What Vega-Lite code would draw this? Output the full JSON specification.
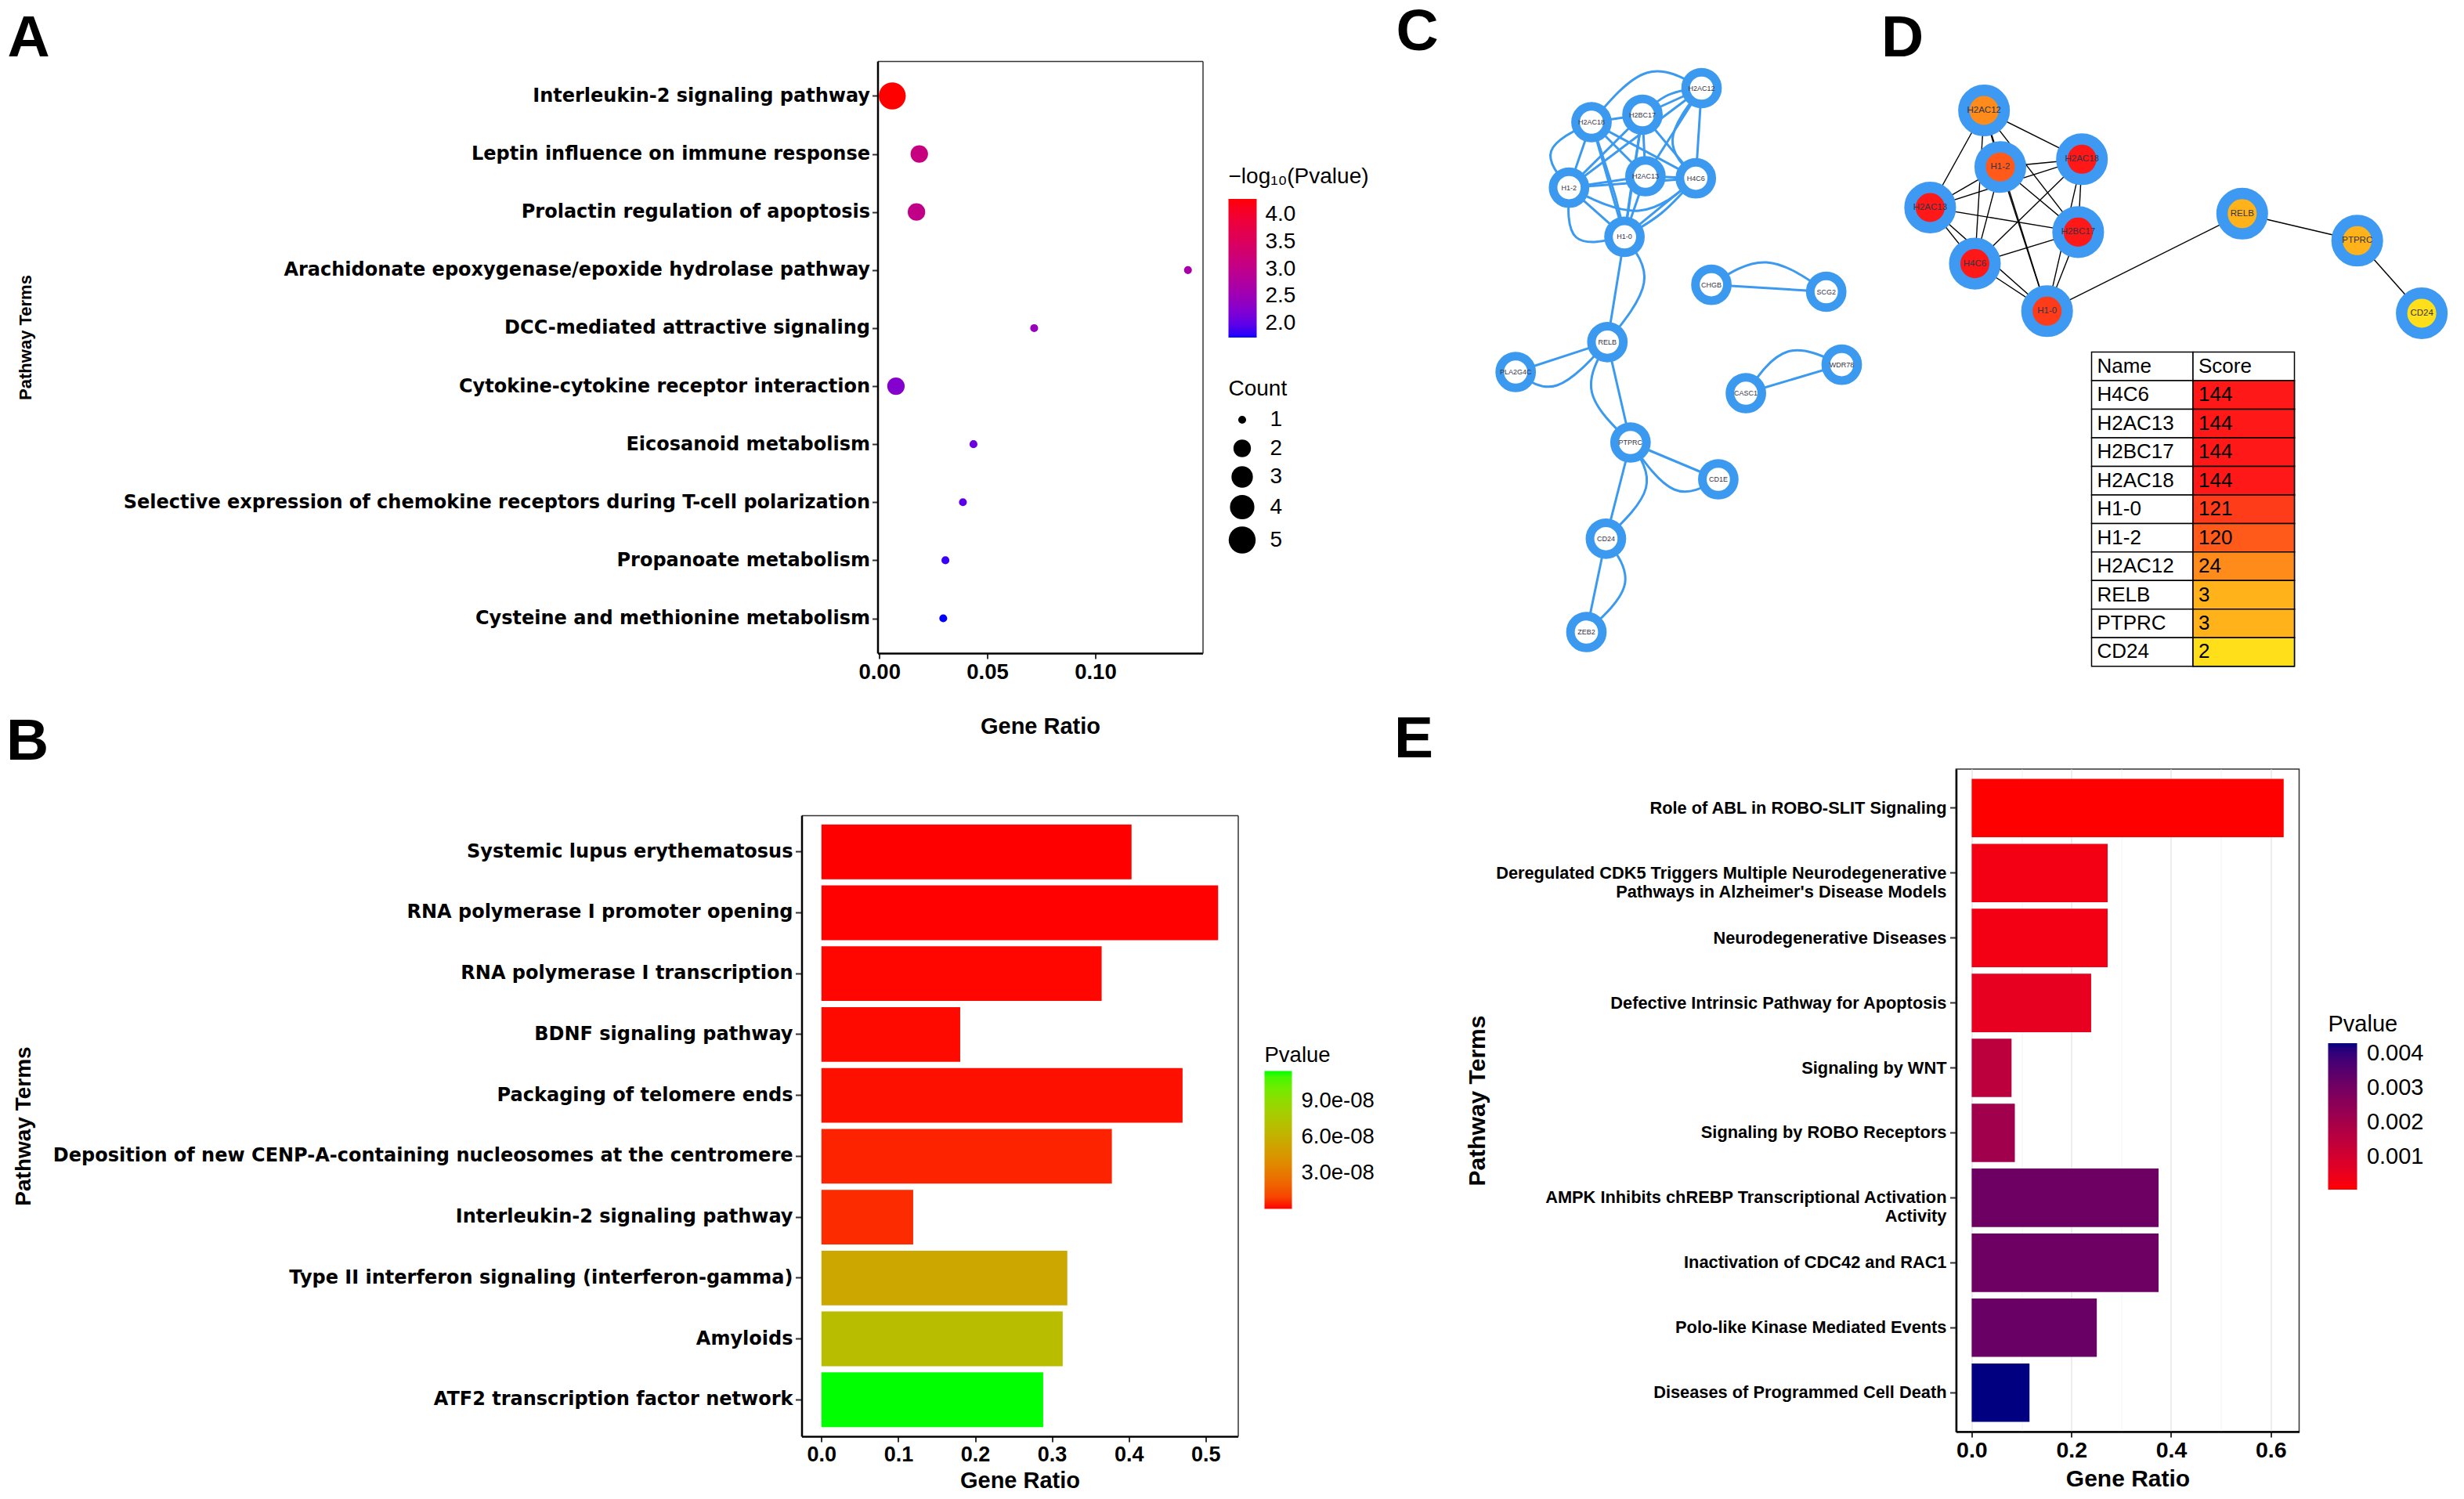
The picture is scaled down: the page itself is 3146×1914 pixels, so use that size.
{
 "$schema": "https://vega.github.io/schema/vega-lite/v6.json",
 "padding": {"left": 7.5, "top": 4, "right": 0, "bottom": 0},
 "background": "white",
 "columns": 3,
 "spacing": {"row": 0, "column": 0},
 "bounds": "flush",
 "resolve": {"scale": {"color": "independent", "size": "independent", "fill": "independent"}},
 "config": {
  "font": "Liberation Sans",
  "view": {"stroke": "#333333", "strokeWidth": 1.5},
  "axis": {"labelLimit": 2000, "labelFlush": false, "labelOverlap": false, "gridColor": "#EBEBEB", "gridWidth": 1.8, "tickColor": "#333333", "tickWidth": 2, "domainColor": "#000000", "domainWidth": 2.5, "labelColor": "#000000", "titleColor": "#000000", "labelFont": "Liberation Sans", "titleFont": "Liberation Sans", "titleFontWeight": "bold", "labelFontWeight": "bold"},
  "legend": {"labelFont": "Liberation Sans", "titleFont": "Liberation Sans", "titleFontWeight": "normal", "labelColor": "#000000", "titleColor": "#000000", "titleLimit": 600, "labelLimit": 400, "padding": 0, "gradientStrokeWidth": 0, "labelOverlap": false},
  "title": {"font": "Liberation Sans", "fontWeight": "bold", "fontSize": 75, "color": "#000000", "anchor": "start", "frame": "group", "baseline": "alphabetic"}
 },
 "datasets": {
  "dotA": [
   {"Term": "Interleukin-2 signaling pathway", "GeneRatio": 0.006, "Count": 5, "logP": 4.29},
   {"Term": "Leptin influence on immune response", "GeneRatio": 0.0185, "Count": 2, "logP": 3.12},
   {"Term": "Prolactin regulation of apoptosis", "GeneRatio": 0.0172, "Count": 2, "logP": 3.02},
   {"Term": "Arachidonate epoxygenase/epoxide hydrolase pathway", "GeneRatio": 0.1429, "Count": 1, "logP": 2.65},
   {"Term": "DCC-mediated attractive signaling", "GeneRatio": 0.0717, "Count": 1, "logP": 2.45},
   {"Term": "Cytokine-cytokine receptor interaction", "GeneRatio": 0.0077, "Count": 2, "logP": 2.25},
   {"Term": "Eicosanoid metabolism", "GeneRatio": 0.0436, "Count": 1, "logP": 2.07},
   {"Term": "Selective expression of chemokine receptors during T-cell polarization", "GeneRatio": 0.0387, "Count": 1, "logP": 1.97},
   {"Term": "Propanoate metabolism", "GeneRatio": 0.0306, "Count": 1, "logP": 1.82},
   {"Term": "Cysteine and methionine metabolism", "GeneRatio": 0.0296, "Count": 1, "logP": 1.74}
  ],
  "barB": [
   {"Term": "Systemic lupus erythematosus", "GeneRatio": 0.4036, "Pvalue": 7e-10},
   {"Term": "RNA polymerase I promoter opening", "GeneRatio": 0.5163, "Pvalue": 8e-10},
   {"Term": "RNA polymerase I transcription", "GeneRatio": 0.3647, "Pvalue": 1.0e-9},
   {"Term": "BDNF signaling pathway", "GeneRatio": 0.1806, "Pvalue": 1.2e-9},
   {"Term": "Packaging of telomere ends", "GeneRatio": 0.470, "Pvalue": 1.6e-9},
   {"Term": "Deposition of new CENP-A-containing nucleosomes at the centromere", "GeneRatio": 0.378, "Pvalue": 3.5e-9},
   {"Term": "Interleukin-2 signaling pathway", "GeneRatio": 0.1194, "Pvalue": 4.8e-9},
   {"Term": "Type II interferon signaling (interferon-gamma)", "GeneRatio": 0.320, "Pvalue": 5.5e-8},
   {"Term": "Amyloids", "GeneRatio": 0.314, "Pvalue": 6.9e-8},
   {"Term": "ATF2 transcription factor network", "GeneRatio": 0.2886, "Pvalue": 1.148e-7}
  ],
  "barE": [
   {"Term": "Role of ABL in ROBO-SLIT Signaling", "GeneRatio": 0.626, "Pvalue": 0.00004},
   {"Term": "Deregulated CDK5 Triggers Multiple Neurodegenerative\nPathways in Alzheimer's Disease Models", "GeneRatio": 0.2728, "Pvalue": 0.0003},
   {"Term": "Neurodegenerative Diseases", "GeneRatio": 0.2728, "Pvalue": 0.0003},
   {"Term": "Defective Intrinsic Pathway for Apoptosis", "GeneRatio": 0.2397, "Pvalue": 0.00055},
   {"Term": "Signaling by WNT", "GeneRatio": 0.080, "Pvalue": 0.0015},
   {"Term": "Signaling by ROBO Receptors", "GeneRatio": 0.0866, "Pvalue": 0.0021},
   {"Term": "AMPK Inhibits chREBP Transcriptional Activation\nActivity", "GeneRatio": 0.375, "Pvalue": 0.0031},
   {"Term": "Inactivation of CDC42 and RAC1", "GeneRatio": 0.375, "Pvalue": 0.0031},
   {"Term": "Polo-like Kinase Mediated Events", "GeneRatio": 0.251, "Pvalue": 0.0032},
   {"Term": "Diseases of Programmed Cell Death", "GeneRatio": 0.116, "Pvalue": 0.0043}
  ],
  "cnodes": [
   {"id": "H2AC12", "x": 2172, "y": 111.5},
   {"id": "H2BC17", "x": 2096.6, "y": 145.5},
   {"id": "H2AC18", "x": 2031.5, "y": 155},
   {"id": "H1-2", "x": 2002.8, "y": 238.6},
   {"id": "H2AC13", "x": 2100.4, "y": 224},
   {"id": "H4C6", "x": 2164.7, "y": 226.6},
   {"id": "H1-0", "x": 2073.6, "y": 301.4},
   {"id": "CHGB", "x": 2184.6, "y": 362.6},
   {"id": "SCG2", "x": 2331.2, "y": 371.5},
   {"id": "RELB", "x": 2051.8, "y": 435.8},
   {"id": "PLA2G4C", "x": 1934.7, "y": 474},
   {"id": "WDR78", "x": 2351, "y": 464.6},
   {"id": "CASC1", "x": 2228.6, "y": 501},
   {"id": "PTPRC", "x": 2081.3, "y": 564},
   {"id": "CD1E", "x": 2193.4, "y": 611},
   {"id": "CD24", "x": 2049.9, "y": 686.8},
   {"id": "ZEB2", "x": 2025, "y": 806}
  ],
  "cedges": [
   {"s": "H2AC12", "t": "H2BC17"}, {"s": "H2AC12", "t": "H4C6"}, {"s": "H2AC12", "t": "H2AC13"}, {"s": "H2AC12", "t": "H1-2"},
   {"s": "H2BC17", "t": "H2AC18"}, {"s": "H2BC17", "t": "H1-2"}, {"s": "H2BC17", "t": "H2AC13"}, {"s": "H2BC17", "t": "H4C6"}, {"s": "H2BC17", "t": "H1-0"},
   {"s": "H2AC18", "t": "H1-2"}, {"s": "H2AC18", "t": "H2AC13"}, {"s": "H2AC18", "t": "H4C6"}, {"s": "H2AC18", "t": "H1-0"},
   {"s": "H1-2", "t": "H2AC13"}, {"s": "H1-2", "t": "H4C6"}, {"s": "H1-2", "t": "H1-0"},
   {"s": "H2AC13", "t": "H4C6"}, {"s": "H2AC13", "t": "H1-0"}, {"s": "H4C6", "t": "H1-0"},
   {"s": "H1-0", "t": "RELB"}, {"s": "RELB", "t": "PLA2G4C"}, {"s": "RELB", "t": "PTPRC"},
   {"s": "PTPRC", "t": "CD1E"}, {"s": "PTPRC", "t": "CD24"}, {"s": "CD24", "t": "ZEB2"},
   {"s": "CHGB", "t": "SCG2"}, {"s": "CASC1", "t": "WDR78"}
  ],
  "ccurves": [
   {"e": "c1", "o": 0, "x": 2073.6, "y": 301.4}, {"e": "c1", "o": 1, "x": 2098.5, "y": 360}, {"e": "c1", "o": 2, "x": 2051.8, "y": 435.8},
   {"e": "c2", "o": 0, "x": 2051.8, "y": 435.8}, {"e": "c2", "o": 1, "x": 1987.5, "y": 491}, {"e": "c2", "o": 2, "x": 1934.7, "y": 474},
   {"e": "c3", "o": 0, "x": 2051.8, "y": 435.8}, {"e": "c3", "o": 1, "x": 2032, "y": 500}, {"e": "c3", "o": 2, "x": 2081.3, "y": 564},
   {"e": "c4", "o": 0, "x": 2081.3, "y": 564}, {"e": "c4", "o": 1, "x": 2137, "y": 624}, {"e": "c4", "o": 2, "x": 2193.4, "y": 611},
   {"e": "c5", "o": 0, "x": 2081.3, "y": 564}, {"e": "c5", "o": 1, "x": 2101, "y": 622}, {"e": "c5", "o": 2, "x": 2049.9, "y": 686.8},
   {"e": "c6", "o": 0, "x": 2049.9, "y": 686.8}, {"e": "c6", "o": 1, "x": 2074, "y": 745}, {"e": "c6", "o": 2, "x": 2025, "y": 806},
   {"e": "c7", "o": 0, "x": 2184.6, "y": 362.6}, {"e": "c7", "o": 1, "x": 2255, "y": 334}, {"e": "c7", "o": 2, "x": 2331.2, "y": 371.5},
   {"e": "c8", "o": 0, "x": 2228.6, "y": 501}, {"e": "c8", "o": 1, "x": 2282, "y": 448}, {"e": "c8", "o": 2, "x": 2351, "y": 464.6},
   {"e": "c9", "o": 0, "x": 2031.5, "y": 155}, {"e": "c9", "o": 1, "x": 2102, "y": 92}, {"e": "c9", "o": 2, "x": 2172, "y": 111.5},
   {"e": "c10", "o": 0, "x": 2172, "y": 111.5}, {"e": "c10", "o": 1, "x": 2135, "y": 177}, {"e": "c10", "o": 2, "x": 2164.7, "y": 226.6},
   {"e": "c11", "o": 0, "x": 2002.8, "y": 238.6}, {"e": "c11", "o": 1, "x": 2012, "y": 302}, {"e": "c11", "o": 2, "x": 2073.6, "y": 301.4},
   {"e": "c12", "o": 0, "x": 2031.5, "y": 155}, {"e": "c12", "o": 1, "x": 1980, "y": 192}, {"e": "c12", "o": 2, "x": 2002.8, "y": 238.6},
   {"e": "c13", "o": 0, "x": 2002.8, "y": 238.6}, {"e": "c13", "o": 1, "x": 2092, "y": 268}, {"e": "c13", "o": 2, "x": 2164.7, "y": 226.6},
   {"e": "c14", "o": 0, "x": 2164.7, "y": 226.6}, {"e": "c14", "o": 1, "x": 2121, "y": 271}, {"e": "c14", "o": 2, "x": 2073.6, "y": 301.4},
   {"e": "c15", "o": 0, "x": 2031.5, "y": 155}, {"e": "c15", "o": 1, "x": 2062, "y": 250}, {"e": "c15", "o": 2, "x": 2073.6, "y": 301.4},
   {"e": "c16", "o": 0, "x": 2096.6, "y": 145.5}, {"e": "c16", "o": 1, "x": 2082, "y": 240}, {"e": "c16", "o": 2, "x": 2073.6, "y": 301.4},
   {"e": "c17", "o": 0, "x": 2172, "y": 111.5}, {"e": "c17", "o": 1, "x": 2130, "y": 120}, {"e": "c17", "o": 2, "x": 2096.6, "y": 145.5}
  ],
  "dnodes": [
   {"id": "H2AC12", "x": 2532.7, "y": 140, "Score": 24},
   {"id": "H1-2", "x": 2553.5, "y": 212.2, "Score": 120},
   {"id": "H2AC18", "x": 2657.7, "y": 202.3, "Score": 144},
   {"id": "H2AC13", "x": 2463.9, "y": 264, "Score": 144},
   {"id": "H2BC17", "x": 2652.9, "y": 295.4, "Score": 144},
   {"id": "H4C6", "x": 2521, "y": 335.6, "Score": 144},
   {"id": "H1-0", "x": 2613.2, "y": 396.3, "Score": 121},
   {"id": "RELB", "x": 2862.3, "y": 271.8, "Score": 3},
   {"id": "PTPRC", "x": 3009.2, "y": 306.3, "Score": 3},
   {"id": "CD24", "x": 3091.6, "y": 399, "Score": 2}
  ],
  "dedges": [
   {"s": "H2AC12", "t": "H1-2"}, {"s": "H2AC12", "t": "H2AC18"}, {"s": "H2AC12", "t": "H2AC13"}, {"s": "H2AC12", "t": "H2BC17"}, {"s": "H2AC12", "t": "H4C6"}, {"s": "H2AC12", "t": "H1-0"},
   {"s": "H1-2", "t": "H2AC18"}, {"s": "H1-2", "t": "H2AC13"}, {"s": "H1-2", "t": "H2BC17"}, {"s": "H1-2", "t": "H4C6"}, {"s": "H1-2", "t": "H1-0"},
   {"s": "H2AC18", "t": "H2AC13"}, {"s": "H2AC18", "t": "H2BC17"}, {"s": "H2AC18", "t": "H4C6"}, {"s": "H2AC18", "t": "H1-0"},
   {"s": "H2AC13", "t": "H2BC17"}, {"s": "H2AC13", "t": "H4C6"}, {"s": "H2AC13", "t": "H1-0"},
   {"s": "H2BC17", "t": "H4C6"}, {"s": "H2BC17", "t": "H1-0"}, {"s": "H4C6", "t": "H1-0"},
   {"s": "H1-0", "t": "RELB"}, {"s": "RELB", "t": "PTPRC"}, {"s": "PTPRC", "t": "CD24"}
  ],
  "dtable": [
   {"r": 0, "c": "Name", "label": "Name"}, {"r": 0, "c": "Score", "label": "Score"},
   {"r": 1, "c": "Name", "label": "H4C6"}, {"r": 1, "c": "Score", "label": "144", "Score": 144},
   {"r": 2, "c": "Name", "label": "H2AC13"}, {"r": 2, "c": "Score", "label": "144", "Score": 144},
   {"r": 3, "c": "Name", "label": "H2BC17"}, {"r": 3, "c": "Score", "label": "144", "Score": 144},
   {"r": 4, "c": "Name", "label": "H2AC18"}, {"r": 4, "c": "Score", "label": "144", "Score": 144},
   {"r": 5, "c": "Name", "label": "H1-0"}, {"r": 5, "c": "Score", "label": "121", "Score": 121},
   {"r": 6, "c": "Name", "label": "H1-2"}, {"r": 6, "c": "Score", "label": "120", "Score": 120},
   {"r": 7, "c": "Name", "label": "H2AC12"}, {"r": 7, "c": "Score", "label": "24", "Score": 24},
   {"r": 8, "c": "Name", "label": "RELB"}, {"r": 8, "c": "Score", "label": "3", "Score": 3},
   {"r": 9, "c": "Name", "label": "PTPRC"}, {"r": 9, "c": "Score", "label": "3", "Score": 3},
   {"r": 10, "c": "Name", "label": "CD24"}, {"r": 10, "c": "Score", "label": "2", "Score": 2}
  ]
 },
 "concat": [
  {
   "width": 512, "height": 756,
   "title": {"text": "A", "dx": -1014, "offset": -10},
   "view": {"stroke": null, "fill": "transparent"},
   "data": {"name": "dotA"},
   "resolve": {"axis": {"x": "independent", "y": "independent"}},
   "layer": [
    {
     "mark": {"type": "circle", "opacity": 0},
     "encoding": {
      "x": {"field": "GeneRatio", "type": "quantitative",
       "scale": {"domain": [-0.0008, 0.1497], "nice": false, "zero": false, "range": [97, 512]},
       "axis": {"orient": "top", "labels": false, "ticks": false, "grid": false, "title": null, "domainColor": "#333333", "domainWidth": 1.5}},
      "y": {"field": "Term", "type": "nominal", "sort": null,
       "scale": {"type": "point", "padding": 0.6},
       "axis": {"orient": "right", "labels": false, "ticks": false, "grid": false, "title": null, "domainColor": "#333333", "domainWidth": 1.5}}
     }
    },
    {
     "mark": {"type": "circle", "opacity": 1},
     "encoding": {
      "x": {"field": "GeneRatio", "type": "quantitative",
       "scale": {"domain": [-0.0008, 0.1497], "nice": false, "zero": false, "range": [97, 512]},
       "axis": {"orient": "bottom", "values": [0, 0.025, 0.05, 0.075, 0.1, 0.125],
        "labelExpr": "abs(datum.value*20 - round(datum.value*20)) < 0.001 ? format(datum.value, '.2f') : ''",
        "gridColor": {"condition": {"test": "abs(datum.value*20 - round(datum.value*20)) > 0.001", "value": "#F4F4F4"}, "value": "#EBEBEB"},
        "gridWidth": {"condition": {"test": "abs(datum.value*20 - round(datum.value*20)) > 0.001", "value": 1}, "value": 1.8},
        "tickOpacity": {"condition": {"test": "abs(datum.value*20 - round(datum.value*20)) > 0.001", "value": 0}, "value": 1},
        "labelFontSize": 27.5, "tickSize": 7, "labelPadding": 3.5,
        "title": "Gene Ratio", "titleFontSize": 29, "titleY": 102, "titleBaseline": "alphabetic"}},
      "y": {"field": "Term", "type": "nominal", "sort": null,
       "scale": {"type": "point", "padding": 0.6},
       "axis": {"orient": "left", "offset": -97, "labelFont": "DejaVu Sans", "labelFontSize": 24, "tickSize": 7, "labelPadding": 3,
        "title": "Pathway Terms", "titleFontSize": 22, "titleX": -1076, "titleY": 352.5, "titleBaseline": "bottom"}},
      "size": {"field": "Count", "type": "quantitative",
       "scale": {"domain": [1, 2, 3, 4, 5], "range": [102, 497, 747, 973, 1188]},
       "legend": {"title": "Count", "values": [1, 2, 3, 4, 5], "format": "d", "orient": "none", "legendX": 545, "legendY": 405,
        "titleFontSize": 28, "labelFontSize": 28, "symbolFillColor": "#000000", "symbolStrokeWidth": 0, "symbolOpacity": 1,
        "rowPadding": 8.5, "titlePadding": 11, "labelOffset": 18}},
      "color": {"field": "logP", "type": "quantitative",
       "scale": {"domain": [1.74, 4.29], "range": ["#0000FF", "#FF0000"], "interpolate": "lab"},
       "legend": {"title": "−log₁₀(Pvalue)", "orient": "none", "legendX": 545, "legendY": 134,
        "gradientLength": 177, "gradientThickness": 36, "values": [2, 2.5, 3, 3.5, 4], "format": ".1f",
        "titleFontSize": 28, "labelFontSize": 28, "titlePadding": 14, "labelOffset": 11}}
     }
    }
   ]
  },
  {
   "width": 917, "height": 904,
   "title": {"text": "C", "dx": 202, "offset": -10},
   "view": {"stroke": null, "fill": "transparent"},
   "layer": [
    {
     "data": {"name": "cedges"},
     "transform": [
      {"lookup": "s", "from": {"data": {"name": "cnodes"}, "key": "id", "fields": ["x", "y"]}, "as": ["sx", "sy"]},
      {"lookup": "t", "from": {"data": {"name": "cnodes"}, "key": "id", "fields": ["x", "y"]}, "as": ["tx", "ty"]}
     ],
     "mark": {"type": "rule", "stroke": "#3B9AF0", "strokeWidth": 3},
     "encoding": {
      "x": {"field": "sx", "type": "quantitative", "scale": {"domain": [1580, 2497], "nice": false, "zero": false}, "axis": null},
      "y": {"field": "sy", "type": "quantitative", "scale": {"domain": [77, 981], "nice": false, "zero": false, "reverse": true}, "axis": null},
      "x2": {"field": "tx"},
      "y2": {"field": "ty"}
     }
    },
    {
     "data": {"name": "ccurves"},
     "mark": {"type": "line", "stroke": "#3B9AF0", "strokeWidth": 3, "interpolate": "natural"},
     "encoding": {
      "x": {"field": "x", "type": "quantitative", "scale": {"domain": [1580, 2497], "nice": false, "zero": false}, "axis": null},
      "y": {"field": "y", "type": "quantitative", "scale": {"domain": [77, 981], "nice": false, "zero": false, "reverse": true}, "axis": null},
      "detail": {"field": "e"},
      "order": {"field": "o"}
     }
    },
    {
     "data": {"name": "cnodes"},
     "mark": {"type": "point", "shape": "circle", "filled": true, "fill": "#FFFFFF", "stroke": "#3B9AF0", "strokeWidth": 11, "size": 1660, "opacity": 1},
     "encoding": {
      "x": {"field": "x", "type": "quantitative", "scale": {"domain": [1580, 2497], "nice": false, "zero": false}, "axis": null},
      "y": {"field": "y", "type": "quantitative", "scale": {"domain": [77, 981], "nice": false, "zero": false, "reverse": true}, "axis": null}
     }
    },
    {
     "data": {"name": "cnodes"},
     "mark": {"type": "text", "fontSize": 9, "font": "Liberation Sans", "fill": "#333344"},
     "encoding": {
      "x": {"field": "x", "type": "quantitative", "scale": {"domain": [1580, 2497], "nice": false, "zero": false}, "axis": null},
      "y": {"field": "y", "type": "quantitative", "scale": {"domain": [77, 981], "nice": false, "zero": false, "reverse": true}, "axis": null},
      "text": {"field": "id"}
     }
    }
   ]
  },
  {
   "width": 638, "height": 773,
   "title": {"text": "D", "dx": -95.5, "offset": -10},
   "view": {"stroke": null, "fill": "transparent"},
   "resolve": {"scale": {"x": "independent", "y": "independent"}},
   "layer": [
    {
     "data": {"name": "dedges"},
     "transform": [
      {"lookup": "s", "from": {"data": {"name": "dnodes"}, "key": "id", "fields": ["x", "y"]}, "as": ["sx", "sy"]},
      {"lookup": "t", "from": {"data": {"name": "dnodes"}, "key": "id", "fields": ["x", "y"]}, "as": ["tx", "ty"]}
     ],
     "mark": {"type": "rule", "stroke": "#000000", "strokeWidth": 1.4},
     "encoding": {
      "x": {"field": "sx", "type": "quantitative", "scale": {"domain": [2497, 3135], "nice": false, "zero": false}, "axis": null},
      "y": {"field": "sy", "type": "quantitative", "scale": {"domain": [77, 850], "nice": false, "zero": false, "reverse": true}, "axis": null},
      "x2": {"field": "tx"},
      "y2": {"field": "ty"}
     }
    },
    {
     "data": {"name": "dnodes"},
     "mark": {"type": "point", "shape": "circle", "filled": true, "stroke": "#3D99F2", "strokeWidth": 14.5, "size": 2660, "opacity": 1},
     "encoding": {
      "x": {"field": "x", "type": "quantitative", "scale": {"domain": [2497, 3135], "nice": false, "zero": false}, "axis": null},
      "y": {"field": "y", "type": "quantitative", "scale": {"domain": [77, 850], "nice": false, "zero": false, "reverse": true}, "axis": null},
      "fill": {"field": "Score", "type": "quantitative", "scale": {"domain": [2, 3, 24, 120, 121, 144], "range": ["#FFDE1A", "#FFB21A", "#FF8C1A", "#FF5A1A", "#FF3C1A", "#FF1818"]}, "legend": null}
     }
    },
    {
     "data": {"name": "dnodes"},
     "mark": {"type": "text", "fontSize": 11.5, "font": "Liberation Sans", "fill": "#333344"},
     "encoding": {
      "x": {"field": "x", "type": "quantitative", "scale": {"domain": [2497, 3135], "nice": false, "zero": false}, "axis": null},
      "y": {"field": "y", "type": "quantitative", "scale": {"domain": [77, 850], "nice": false, "zero": false, "reverse": true}, "axis": null},
      "text": {"field": "id"}
     }
    },
    {
     "data": {"name": "dtable"},
     "mark": {"type": "rect", "fill": "#FFFFFF", "stroke": "#000000", "strokeWidth": 1.5},
     "encoding": {
      "x": {"field": "c", "type": "nominal", "scale": {"type": "band", "domain": ["Name", "Score"], "range": [173, 432], "paddingInner": 0, "paddingOuter": 0}, "axis": null},
      "y": {"field": "r", "type": "ordinal", "scale": {"type": "band", "domain": [0, 1, 2, 3, 4, 5, 6, 7, 8, 9, 10], "range": [371.6, 772.7], "paddingInner": 0, "paddingOuter": 0}, "axis": null}
     }
    },
    {
     "data": {"name": "dtable"},
     "transform": [{"filter": "isValid(datum.Score)"}],
     "mark": {"type": "rect", "stroke": "#000000", "strokeWidth": 1.5},
     "encoding": {
      "x": {"field": "c", "type": "nominal", "scale": {"type": "band", "domain": ["Name", "Score"], "range": [173, 432], "paddingInner": 0, "paddingOuter": 0}, "axis": null},
      "y": {"field": "r", "type": "ordinal", "scale": {"type": "band", "domain": [0, 1, 2, 3, 4, 5, 6, 7, 8, 9, 10], "range": [371.6, 772.7], "paddingInner": 0, "paddingOuter": 0}, "axis": null},
      "fill": {"field": "Score", "type": "quantitative", "scale": {"domain": [2, 3, 24, 120, 121, 144], "range": ["#FFDE1A", "#FFB21A", "#FF8C1A", "#FF5A1A", "#FF3C1A", "#FF1818"]}, "legend": null}
     }
    },
    {
     "data": {"name": "dtable"},
     "mark": {"type": "text", "align": "left", "baseline": "middle", "dx": 7, "fontSize": 26, "font": "Liberation Sans", "fill": "#000000"},
     "encoding": {
      "x": {"field": "c", "type": "nominal", "bandPosition": 0, "scale": {"type": "band", "domain": ["Name", "Score"], "range": [173, 432], "paddingInner": 0, "paddingOuter": 0}, "axis": null},
      "y": {"field": "r", "type": "ordinal", "bandPosition": 0.5, "scale": {"type": "band", "domain": [0, 1, 2, 3, 4, 5, 6, 7, 8, 9, 10], "range": [371.6, 772.7], "paddingInner": 0, "paddingOuter": 0}, "axis": null},
      "text": {"field": "label"}
     }
    }
   ]
  },
  {
   "width": 557, "height": 852,
   "title": {"text": "B", "dx": -1015.5, "offset": -4},
   "view": {"stroke": null, "fill": "transparent"},
   "data": {"name": "barB"},
   "resolve": {"axis": {"x": "independent", "y": "independent"}},
   "layer": [
    {
     "mark": {"type": "bar", "opacity": 0},
     "encoding": {
      "x": {"field": "GeneRatio", "type": "quantitative",
       "scale": {"domain": [-0.0258, 0.542], "nice": false, "zero": false},
       "axis": {"orient": "top", "offset": -59, "labels": false, "ticks": false, "grid": false, "title": null, "domainColor": "#333333", "domainWidth": 1.5}},
      "y": {"field": "Term", "type": "nominal", "sort": null,
       "scale": {"range": [59, 852], "paddingInner": 0.1, "paddingOuter": 0.15},
       "axis": {"orient": "right", "labels": false, "ticks": false, "grid": false, "title": null, "domainColor": "#333333", "domainWidth": 1.5}}
     }
    },
    {
     "mark": {"type": "bar"},
     "encoding": {
      "x": {"field": "GeneRatio", "type": "quantitative",
       "scale": {"domain": [-0.0258, 0.542], "nice": false, "zero": false},
       "axis": {"orient": "bottom", "values": [0, 0.05, 0.1, 0.15, 0.2, 0.25, 0.3, 0.35, 0.4, 0.45, 0.5],
        "labelExpr": "abs(datum.value*10 - round(datum.value*10)) < 0.001 ? format(datum.value, '.1f') : ''",
        "gridColor": {"condition": {"test": "abs(datum.value*10 - round(datum.value*10)) > 0.001", "value": "#F4F4F4"}, "value": "#EBEBEB"},
        "gridWidth": {"condition": {"test": "abs(datum.value*10 - round(datum.value*10)) > 0.001", "value": 1}, "value": 1.8},
        "tickOpacity": {"condition": {"test": "abs(datum.value*10 - round(datum.value*10)) > 0.001", "value": 0}, "value": 1},
        "labelFontSize": 27, "tickSize": 7, "labelPadding": 3,
        "title": "Gene Ratio", "titleFontSize": 29, "titleY": 65, "titleBaseline": "alphabetic"}},
      "y": {"field": "Term", "type": "nominal", "sort": null,
       "scale": {"range": [59, 852], "paddingInner": 0.1, "paddingOuter": 0.15},
       "axis": {"orient": "left", "labelFont": "DejaVu Sans", "labelFontSize": 24, "tickSize": 8, "labelPadding": 3.5,
        "title": "Pathway Terms", "titleFontSize": 28, "titleX": -979, "titleY": 455.5, "titleBaseline": "bottom"}},
      "color": {"field": "Pvalue", "type": "quantitative",
       "scale": {"domain": [7e-10, 1.148e-7], "range": ["#FF0000", "#00FF00"], "interpolate": "lab"},
       "legend": {"title": "Pvalue", "orient": "none", "legendX": 591, "legendY": 352,
        "gradientLength": 176, "gradientThickness": 35, "values": [3e-8, 6e-8, 9e-8],
        "labelExpr": "replace(format(datum.value, '.1e'), 'e-', 'e-0')",
        "titleFontSize": 27.5, "labelFontSize": 27.5, "titlePadding": 6, "labelOffset": 12}}
     }
    }
   ]
  },
  {
   "width": 917, "height": 10,
   "view": {"stroke": null},
   "data": {"values": [{"v": 0}]},
   "mark": {"type": "point", "opacity": 0},
   "encoding": {}
  },
  {
   "width": 438, "height": 846,
   "title": {"text": "E", "dx": -717.5, "offset": -1},
   "data": {"name": "barE"},
   "mark": {"type": "bar"},
   "encoding": {
    "x": {"field": "GeneRatio", "type": "quantitative",
     "scale": {"domain": [-0.0313, 0.657], "nice": false, "zero": false},
     "axis": {"values": [0, 0.1, 0.2, 0.3, 0.4, 0.5, 0.6],
      "labelExpr": "abs(datum.value*5 - round(datum.value*5)) < 0.001 ? format(datum.value, '.1f') : ''",
      "gridColor": {"condition": {"test": "abs(datum.value*5 - round(datum.value*5)) > 0.001", "value": "#F4F4F4"}, "value": "#EBEBEB"},
      "gridWidth": {"condition": {"test": "abs(datum.value*5 - round(datum.value*5)) > 0.001", "value": 1}, "value": 1.8},
      "tickOpacity": {"condition": {"test": "abs(datum.value*5 - round(datum.value*5)) > 0.001", "value": 0}, "value": 1},
      "labelFontSize": 28.5, "tickSize": 7, "labelPadding": 2.5,
      "title": "Gene Ratio", "titleFontSize": 30, "titleY": 69, "titleBaseline": "alphabetic"}},
    "y": {"field": "Term", "type": "nominal", "sort": null,
     "scale": {"paddingInner": 0.1, "paddingOuter": 0.15},
     "axis": {"labelFont": "Liberation Sans", "labelFontSize": 21.8, "labelLineHeight": 24, "tickSize": 8, "labelPadding": 4.5,
      "labelExpr": "split(datum.label, '\\n')",
      "title": "Pathway Terms", "titleFontSize": 30, "titleX": -596, "titleY": 423, "titleBaseline": "bottom"}},
    "color": {"field": "Pvalue", "type": "quantitative",
     "scale": {"domain": [0.00004, 0.0043], "range": ["#FF0000", "#000080"], "interpolate": "lab"},
     "legend": {"title": "Pvalue", "orient": "none", "legendX": 475, "legendY": 312,
      "gradientLength": 187, "gradientThickness": 37, "values": [0.001, 0.002, 0.003, 0.004], "format": ".3f",
      "titleFontSize": 29, "labelFontSize": 29, "titlePadding": 9, "labelOffset": 12.4}}
   }
  }
 ]
}
